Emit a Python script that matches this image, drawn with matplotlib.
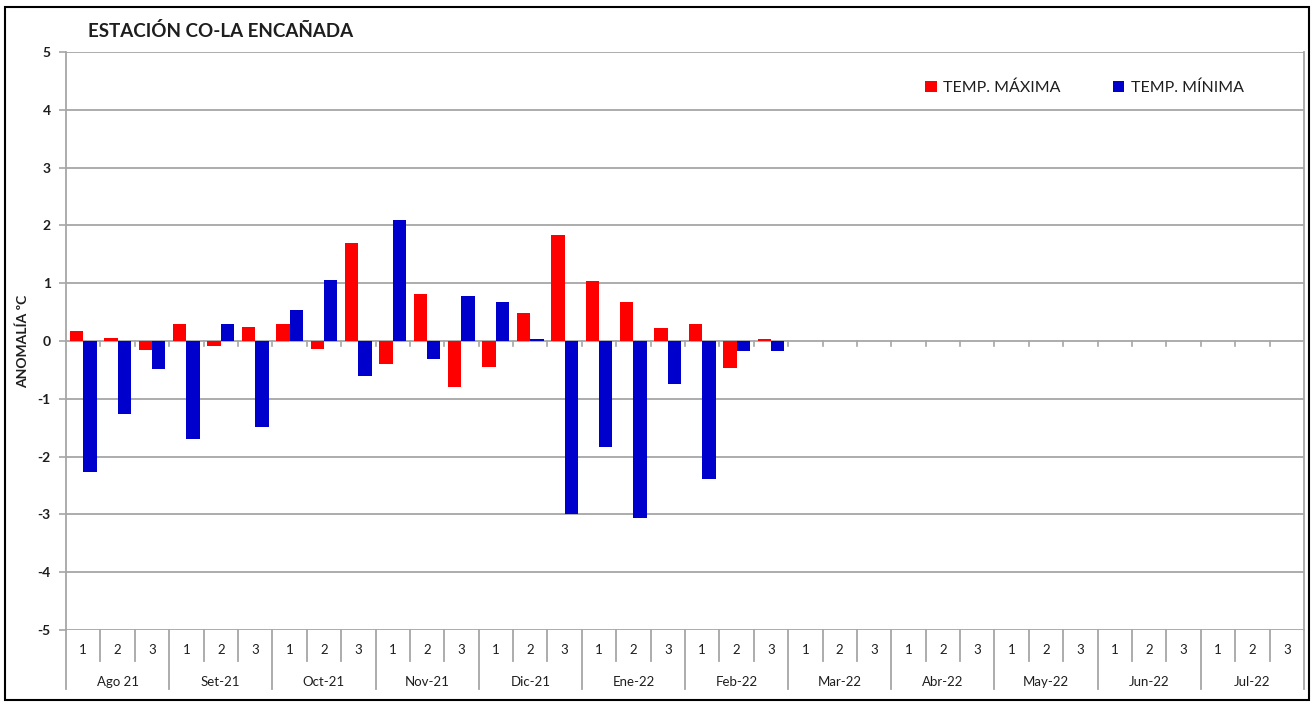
import numpy as np
import matplotlib
matplotlib.use("Agg")
import matplotlib.pyplot as plt
from matplotlib.lines import Line2D
from matplotlib.patches import Rectangle
import matplotlib.transforms as mtransforms

plt.rcParams['font.family'] = ['Lato', 'DejaVu Sans']
plt.rcParams['axes.unicode_minus'] = False

# ---------------------------------------------------------------------------
#  data (anomalies per decade)
# ---------------------------------------------------------------------------
months = ["Ago 21", "Set-21", "Oct-21", "Nov-21", "Dic-21", "Ene-22",
          "Feb-22", "Mar-22", "Abr-22", "May-22", "Jun-22", "Jul-22"]
decades = ["1", "2", "3"]
nan = np.nan
temp_max = [0.18, 0.05, -0.15, 0.29, -0.09, 0.25, 0.29, -0.13, 1.69,
            -0.39, 0.81, -0.79, -0.45, 0.48, 1.83, 1.03, 0.67, 0.23,
            0.29, -0.47, 0.03] + [nan] * 15
temp_min = [-2.27, -1.27, -0.49, -1.69, 0.29, -1.49, 0.53, 1.05, -0.61,
            2.09, -0.31, 0.77, 0.67, 0.03, -2.99, -1.83, -3.07, -0.74,
            -2.39, -0.17, -0.17] + [nan] * 15

RED = "#FF0000"
BLUE = "#0000CC"
GRID = "#A6A6A6"
TXT = "#1E1E1E"

n = len(months) * len(decades)
x = np.arange(n)
w = 0.39

fig = plt.figure(figsize=(13.12, 7.05), dpi=100)
ax = fig.add_axes([66 / 1312, 1 - 630 / 705, (1304 - 66) / 1312, (630 - 52) / 705])

ax.bar(x - w / 2, temp_max, w, color=RED, label="TEMP. MÁXIMA", zorder=3)
ax.bar(x + w / 2, temp_min, w, color=BLUE, label="TEMP. MÍNIMA", zorder=3)

ax.set_xlim(-0.5, n - 0.5)
ax.set_ylim(-5, 5)
ax.set_yticks(range(-5, 6))
ax.yaxis.grid(True, color=GRID, lw=1.3, zorder=0)
ax.set_xticks([])
for s in ["top", "bottom"]:
    ax.spines[s].set_visible(False)
for s in ["left", "right"]:
    ax.spines[s].set_color(GRID)
    ax.spines[s].set_linewidth(1.3)
ax.tick_params(axis="y", length=5, color=GRID, width=1.2, labelsize=10,
               labelcolor=TXT, pad=6)
for t in ax.get_yticklabels():
    t.set_fontweight("bold")

# small tick marks on the zero line at category boundaries
for b in np.arange(0.5, n - 0.5, 1.0):
    ax.plot([b, b], [0, -0.09], color=GRID, lw=1.2, zorder=2)

# multi-level category axis (decade / month)
trans = mtransforms.blended_transform_factory(ax.transData, ax.transAxes)
for i in range(n):
    ax.text(x[i], -0.035, decades[i % 3], transform=trans, ha="center",
            va="center", fontsize=9.5, color=TXT)
for b in np.arange(-0.5, n + 0.5, 1.0):
    k = int(round(b + 0.5))
    y_end = -0.102 if k % 3 == 0 else -0.0536
    ax.add_line(Line2D([b, b], [0, y_end], transform=trans, color=GRID,
                       lw=1.3, clip_on=False))
for m, lab in enumerate(months):
    ax.text(3 * m + 1, -0.09, lab, transform=trans, ha="center", va="center",
            fontsize=9.5, color=TXT)

ax.set_ylabel("ANOMALÍA ºC", fontsize=10, fontweight="bold", color=TXT,
              labelpad=6)

fig.text(88 / 1312, 1 - 31 / 705, "ESTACIÓN CO-LA ENCAÑADA", fontsize=13.5,
         fontweight="bold", color=TXT, ha="left", va="center")

ax.legend(loc="upper right", bbox_to_anchor=(0.963, 0.975), ncol=2,
          frameon=False, fontsize=11.5, handlelength=0.7, handleheight=0.7,
          handletextpad=0.4, columnspacing=3.3, labelcolor=TXT)

# outer chart frame
fig.patches.append(Rectangle((5 / 1312, 1 - 700 / 705), 1304 / 1312, 693 / 705,
                             transform=fig.transFigure, fill=False,
                             edgecolor="black", lw=1.5))

fig.savefig("out.png", dpi=100)
